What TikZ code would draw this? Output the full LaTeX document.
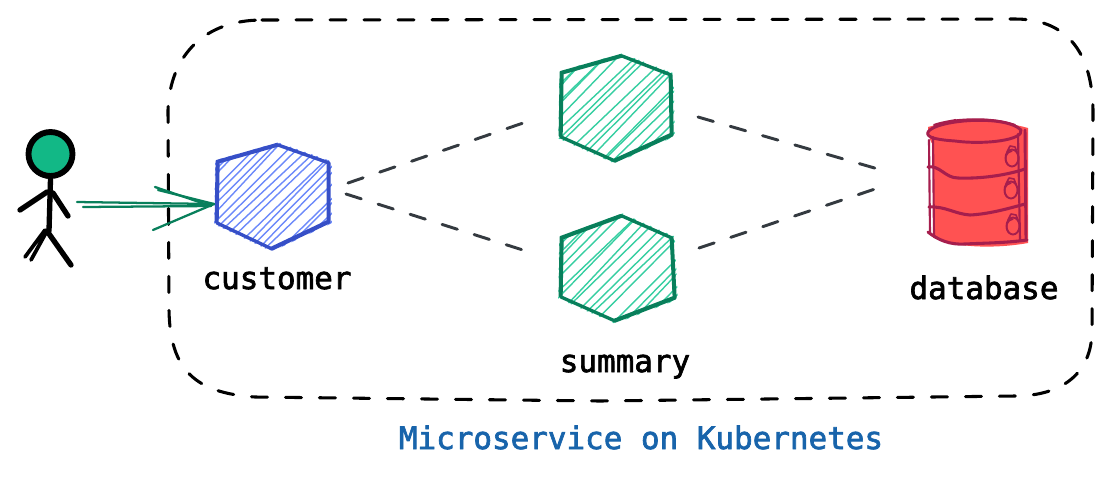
\documentclass[tikz,border=0pt]{standalone}
\usepackage{fontspec}
\setmonofont[FakeBold=2.2]{DejaVu Sans Mono}
\usepackage{tikz}
\definecolor{boxblue}{HTML}{364FC7}
\definecolor{hatchblue}{HTML}{5C7CFA}
\definecolor{boxgreen}{HTML}{087F5B}
\definecolor{hatchgreen}{HTML}{20C997}
\definecolor{dbred}{HTML}{FF5252}
\definecolor{dbline}{HTML}{A61E4D}
\definecolor{linkgrey}{HTML}{343A40}
\definecolor{headgreen}{HTML}{12B886}
\definecolor{titleblue}{HTML}{1864AB}
\tikzset{
    boundary/.style = {draw, line width=2.3pt, line cap=round, dash pattern=on 12pt off 13.5pt},
    linkline/.style = {draw=linkgrey, line width=2.2pt, line cap=round, dash pattern=on 12pt off 13.2pt},
    hexnode/.style = {inner sep=0pt, minimum size=110*0.75pt},
    label/.style = {font=\ttfamily\fontsize{23.2}{23}\selectfont, inner sep=0pt, anchor=base},
    limb/.style = {line width=4pt, line cap=round},
    dbstroke/.style = {draw=dbline, line width=1.6pt, line cap=round, line join=round},
    arrowstroke/.style = {draw=boxgreen, line width=1.7pt, line cap=round}
}
% hexagon with rough hatching: name, stroke, hatch, centre, hatch step, outline
\newcommand{\hexsketch}[6]{
    \node (#1) [hexnode] at (#4) {};
    \begin{scope}[shift={(#4)}]
        \begin{scope}
            \clip[scale=1.05] #6 -- cycle;
            \foreach \off in {-125,-#5,...,125} {
                \pgfmathsetmacro{\ja}{rand*7}
                \pgfmathsetmacro{\jb}{rand*7}
                \draw[#3!90!white, line width=1.05pt] (\off-75+\ja,75) -- (\off+75+\jb,-75);
            }
        \end{scope}
        \draw[#2, line width=2.5pt, line join=round, line cap=round] #6 -- cycle;
        \draw[#2, line width=1.2pt, line join=round, line cap=round, xshift=-1.2pt, yshift=0.9pt] #6 -- cycle;
    \end{scope}
}
\begin{document}
\begin{tikzpicture}[x=0.75pt, y=-0.75pt]
    \useasboundingbox (0,0) rectangle (1114,476);
    \pgfmathsetseed{7}

    % cluster outline
    \draw[boundary] (262,20) -- (1015,19) .. controls (1065,19) and (1092,50) .. (1093,110)
        -- (1092,330) .. controls (1092,375) and (1060,396) .. (1015,396)
        -- (600,401) -- (255,397) .. controls (195,393) and (170,370) .. (169,310)
        -- (168,110) .. controls (170,55) and (205,20) .. (262,20);

    % services
    \hexsketch{customer}{boxblue}{hatchblue}{274,197}{116}{(-56,-35) -- (4,-52) -- (55,-34) -- (55,25) -- (-2,52) -- (-57,26)}
    \hexsketch{summaryA}{boxgreen}{hatchgreen}{616,108}{115}{(-54,-35) -- (6,-52) -- (55,-33) -- (56,27) -- (-1,53) -- (-55,29)}
    \hexsketch{summaryB}{boxgreen}{hatchgreen}{617,268}{115}{(-55,-30) -- (5,-52) -- (55,-30) -- (58,30) -- (-2,53) -- (-56,29)}

    % database
    \node (database) [inner sep=0pt, minimum width=100*0.75pt, minimum height=125*0.75pt] at (978,184) {};
    \fill[dbred] (928,127) .. controls (960,118) and (1000,120) .. (1028,128) -- (1028,243)
        .. controls (1000,248) and (960,249) .. (934,238) -- (934,146) .. controls (930,142) and (928,135) .. (928,127) -- cycle;
    \draw[dbstroke, line width=2.2pt] (928,132) .. controls (935,120) and (1005,114) .. (1021,130)
        .. controls (1024,140) and (985,145) .. (955,141) .. controls (940,140) and (925,138) .. (928,132);
    \draw[dbstroke] (945,122) -- (956,120) (934,125) .. controls (950,119) and (990,116) .. (1015,125);
    \draw[dbstroke] (933,137) -- (934,237) (929,140) -- (930,234);
    \draw[dbstroke] (1018,134) -- (1020,240);
    \draw[dbstroke, line width=2.2pt] (1025,130) -- (1026,240);
    \draw[dbstroke, line width=2.3pt] (928,167) .. controls (940,165) and (945,178) .. (958,178) .. controls (985,179) and (1010,174) .. (1025,169);
    \draw[dbstroke, line width=2.3pt] (929,207) .. controls (945,206) and (955,214) .. (970,215) .. controls (990,214) and (1010,208) .. (1025,204);
    \draw[dbstroke, line width=2.3pt] (928,232) .. controls (938,240) and (950,245) .. (965,244) .. controls (985,243) and (1005,243) .. (1027,240);
    \foreach \kx/\ky in {1012/157, 1011/189, 1013/225} {
        \draw[dbstroke, line width=1.4pt] (\kx,\ky+1) ellipse [x radius=6.5, y radius=8.5];
        \draw[dbstroke, line width=1.2pt] (\kx-5,\ky-5) -- (\kx-2,\ky-11) -- (\kx+3,\ky-10) -- (\kx+5,\ky-5);
        \draw[dbstroke, line width=1.1pt] (\kx-4,\ky+8) .. controls (\kx-9,\ky+2) and (\kx-6,\ky-5) .. (\kx,\ky-6);
    }

    % user
    \node (userhead) [circle, draw, fill=headgreen, line width=4.4pt, minimum size=44*0.75pt, inner sep=0pt] at (50.5,154) {};
    \draw[line width=1.6pt] (31,160) .. controls (30,170) and (40,178) .. (52,178);
    \coordinate (hip) at (49,231);
    \draw[limb] (userhead.south) -- (hip);
    \draw[limb] (47,192) -- (20,210) (53,193) -- (68,216) (47,231) -- (71,265);
    \draw[limb, line width=2.8pt] (45,230) -- (25,257) (47,231) -- (31,260);

    % arrow into customer
    \coordinate (arrowA) at (77,202);
    \coordinate (arrowB) at (83,207);
    \coordinate (tipA) at (214,204);
    \coordinate (tipB) at (211,206);
    \coordinate (barbA) at (155,187);
    \coordinate (barbB) at (158,190);
    \coordinate (barbC) at (153,230);
    \draw[arrowstroke] (arrowA) -- (tipA);
    \draw[arrowstroke] (arrowB) -- (tipB);
    \draw[arrowstroke] (barbA) -- (tipB);
    \draw[arrowstroke] (barbB) -- (tipA);
    \draw[arrowstroke] (barbC) -- (tipA);

    % links
    \coordinate (custUp) at (348,183);
    \coordinate (custDown) at (346,194);
    \coordinate (sumAleft) at (526,122);
    \coordinate (sumBleft) at (526,251);
    \coordinate (sumAright) at (698,117);
    \coordinate (sumBright) at (699,248);
    \coordinate (dbUp) at (878,169);
    \coordinate (dbDown) at (878,188);
    \draw[linkline] (custUp) -- (sumAleft);
    \draw[linkline] (custDown) -- (sumBleft);
    \draw[linkline] (sumAright) -- (dbUp);
    \draw[linkline] (sumBright) -- (dbDown);

    % labels
    \node (customerlabel) [label] at (277,289) {customer};
    \node (summarylabel) [label] at (625,372) {summary};
    \node (databaselabel) [label] at (984,299) {database};
    \node (title) [label, text=titleblue] at (641,449) {Microservice on Kubernetes};
\end{tikzpicture}
\end{document}
